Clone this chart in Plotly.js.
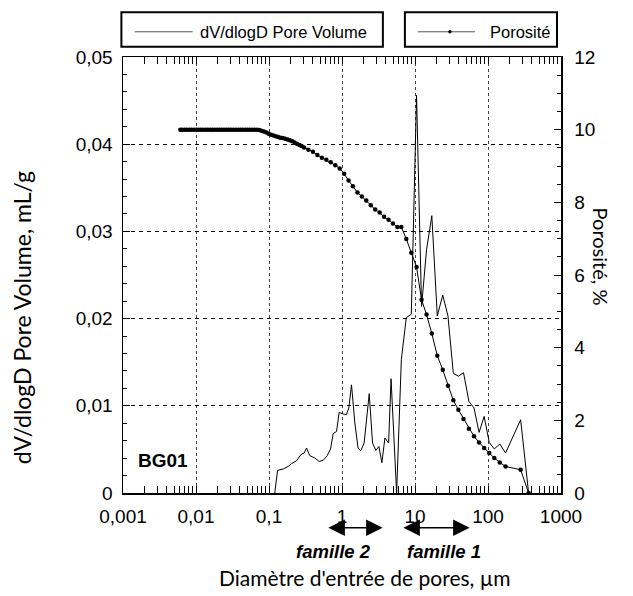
<!DOCTYPE html>
<html>
<head>
<meta charset="utf-8">
<script src="https://cdn.plot.ly/plotly-3.0.1.min.js"></script>
<style>html,body{margin:0;padding:0;background:#fff;}#chart{width:633px;height:596px;}</style>
</head>
<body>
<div id="chart"></div>
<script>
// ---- Data ----
// dV/dlogD pore volume (mL/g) vs pore entry diameter (µm)
const dvDiameter = [0.120, 0.131, 0.156, 0.183, 0.203, 0.238, 0.273, 0.303, 0.327, 0.362, 0.425, 0.486, 0.552, 0.627, 0.697, 0.757, 0.842, 0.914, 1.04, 1.15, 1.24, 1.35, 1.50, 1.66, 1.81, 2.01, 2.36, 2.62, 2.91, 3.20, 3.52, 3.87, 4.35, 4.70, 5.6, 6.5, 7.6, 8.9, 10.5, 12.3, 14.4, 17.0, 20.2, 24.0, 28.3, 33.5, 39.3, 46.2, 54.8, 64.3, 75.5, 88.6, 104, 122, 145, 174, 280, 360];
const dvValue = [0, 0.00259, 0.00275, 0.00305, 0.00336, 0.0037, 0.0044, 0.00459, 0.00516, 0.00428, 0.00401, 0.00362, 0.00374, 0.00428, 0.00505, 0.0068, 0.00706, 0.00925, 0.00906, 0.00898, 0.00975, 0.0124, 0.00803, 0.00516, 0.00485, 0.00573, 0.01139, 0.00573, 0.00489, 0.00534, 0.00347, 0.0063, 0.00573, 0.0131, 0, 0.0153, 0.0201, 0.0205, 0.0456, 0.0214, 0.0279, 0.0318, 0.0203, 0.0227, 0.0203, 0.0137, 0.0134, 0.0138, 0.0105, 0.00975, 0.00695, 0.00878, 0.0058, 0.00505, 0.00562, 0.00459, 0.0084, 0];

// Porosité (%) vs pore entry diameter (µm)
const porDiameter = [0.0061, 0.0065, 0.0070, 0.0075, 0.0081, 0.0087, 0.0094, 0.0101, 0.0108, 0.0116, 0.0125, 0.0135, 0.0145, 0.0156, 0.0168, 0.0181, 0.0195, 0.0210, 0.0226, 0.0243, 0.0262, 0.0282, 0.0303, 0.0326, 0.0351, 0.0378, 0.0407, 0.0438, 0.0472, 0.0508, 0.0547, 0.0589, 0.0634, 0.0683,
  0.0735, 0.079, 0.085, 0.092, 0.099, 0.107, 0.115, 0.124, 0.133, 0.143, 0.154, 0.166, 0.179, 0.193, 0.208, 0.224, 0.241, 0.260, 0.280, 0.302,
  0.347, 0.40, 0.46, 0.53, 0.61, 0.70, 0.81, 0.93, 1.07, 1.23, 1.41, 1.63, 1.87, 2.15, 2.48, 2.85, 3.28, 3.77, 4.34, 4.99, 5.74, 6.5,
  7.6, 8.9, 10.5, 12.3, 14.4, 17.0, 20.2, 24.0, 28.3, 33.5, 39.3, 46.2, 54.8, 64.3, 75.5, 88.6, 104, 122, 145, 174, 280, 360];
const porValue = [10.0, 10.0, 10.0, 10.0, 10.0, 10.0, 10.0, 10.0, 10.0, 10.0, 10.0, 10.0, 10.0, 10.0, 10.0, 10.0, 10.0, 10.0, 10.0, 10.0, 10.0, 10.0, 10.0, 10.0, 10.0, 10.0, 10.0, 10.0, 10.0, 10.0, 10.0, 10.0, 10.0, 10.0,
  9.99, 9.97, 9.95, 9.92, 9.89, 9.86, 9.84, 9.82, 9.80, 9.78, 9.77, 9.75, 9.73, 9.71, 9.68, 9.65, 9.61, 9.58, 9.55, 9.51,
  9.45, 9.39, 9.30, 9.23, 9.17, 9.10, 9.02, 8.93, 8.79, 8.60, 8.44, 8.27, 8.16, 8.05, 7.92, 7.80, 7.72, 7.60, 7.52, 7.42, 7.32, 7.32,
  6.99, 6.61, 6.22, 5.32, 4.91, 4.39, 3.78, 3.39, 2.95, 2.55, 2.29, 2.04, 1.77, 1.56, 1.39, 1.24, 1.10, 0.96, 0.84, 0.73, 0.64, 0];

// Tick labels
const xTickValues = [0.001, 0.01, 0.1, 1, 10, 100, 1000];
const xTickLabels = ['0,001', '0,01', '0,1', '1', '10', '100', '1000'];
const yTickValues = [0, 0.01, 0.02, 0.03, 0.04, 0.05];
const yTickLabels = ['0', '0,01', '0,02', '0,03', '0,04', '0,05'];
const y2TickValues = [0, 2, 4, 6, 8, 10, 12];
const y2TickLabels = ['0', '2', '4', '6', '8', '10', '12'];

const seriesNames = ['dV/dlogD Pore Volume', 'Porosité'];
const sampleLabel = 'BG01';
const familyLabels = ['famille 2', 'famille 1'];
const familyRanges = [[0.62, 3.6], [6.6, 56]];

// ---- Chart ----
const xMinor = [];
for (let e = -3; e < 3; e++) for (let m = 2; m <= 9; m++) xMinor.push(m * Math.pow(10, e));

const tickFont = {family: 'Liberation Sans, Arial, sans-serif', size: 19, color: '#000'};
const titleFont = {family: 'Lato, Open Sans, sans-serif', size: 21, color: '#000'};

const traces = [
  {x: dvDiameter, y: dvValue, name: seriesNames[0], type: 'scatter', mode: 'lines',
   line: {color: '#000', width: 1}, yaxis: 'y', showlegend: false},
  {x: porDiameter, y: porValue, name: seriesNames[1], type: 'scatter', mode: 'lines+markers',
   line: {color: '#000', width: 1}, marker: {color: '#000', size: 4.5}, yaxis: 'y2', showlegend: false}
];

const L = 123.3, R = 561, T = 57.5, B = 493.3;
const px = v => (v - L) / (R - L);
const py = v => (B - v) / (B - T);

const shapes = [
  {type: 'rect', xref: 'paper', yref: 'paper', x0: px(121.7), x1: px(383), y0: py(47.3), y1: py(12.7), line: {color: '#000', width: 2}},
  {type: 'rect', xref: 'paper', yref: 'paper', x0: px(405), x1: px(557), y0: py(47.3), y1: py(12.7), line: {color: '#000', width: 2}},
  {type: 'line', xref: 'paper', yref: 'paper', x0: px(135), x1: px(193), y0: py(32.3), y1: py(32.3), line: {color: '#555', width: 1}},
  {type: 'line', xref: 'paper', yref: 'paper', x0: px(418), x1: px(475), y0: py(32.3), y1: py(32.3), line: {color: '#555', width: 1}},
  {type: 'circle', xref: 'paper', yref: 'paper', x0: px(448.3), x1: px(451.7), y0: py(34), y1: py(30.6), fillcolor: '#000', line: {color: '#000', width: 0}}
];

const legendFont = {family: 'Liberation Sans, Arial, sans-serif', size: 16.5, color: '#000'};
const annotations = [
  {xref: 'paper', yref: 'paper', x: px(198), y: py(32.3), xanchor: 'left', yanchor: 'middle', showarrow: false,
   text: seriesNames[0], font: legendFont},
  {xref: 'paper', yref: 'paper', x: px(488), y: py(32.3), xanchor: 'left', yanchor: 'middle', showarrow: false,
   text: seriesNames[1], font: legendFont},
  {xref: 'paper', yref: 'paper', x: px(163), y: py(461), xanchor: 'center', yanchor: 'middle', showarrow: false,
   text: '<b>' + sampleLabel + '</b>', font: {family: 'Liberation Sans, Arial, sans-serif', size: 19, color: '#000'}},
  {xref: 'paper', yref: 'paper', x: px(365), y: py(578), xanchor: 'center', yanchor: 'middle', showarrow: false,
   text: "Diamètre d'entrée de pores, µm", font: titleFont},
  {xref: 'paper', yref: 'paper', x: px(22), y: py(318), xanchor: 'center', yanchor: 'middle', showarrow: false, textangle: -90,
   text: 'dV/dlogD Pore Volume, mL/g', font: {family: titleFont.family, size: 23, color: '#000'}},
  {xref: 'paper', yref: 'paper', x: px(601), y: py(257), xanchor: 'center', yanchor: 'middle', showarrow: false, textangle: 90,
   text: 'Porosité, %', font: {family: titleFont.family, size: 20, color: '#000'}}
];

familyRanges.forEach((r, i) => {
  const a = Math.log10(r[0]), b = Math.log10(r[1]);
  const spanPx = (b - a) * (R - L) / 6;
  annotations.push({xref: 'x', yref: 'paper', x: b, y: py(528), ax: -spanPx, ay: 0, text: '',
    showarrow: true, arrowside: 'end+start', arrowhead: 2, startarrowhead: 2, arrowsize: 2.2, startarrowsize: 2.2,
    arrowwidth: 1.5, arrowcolor: '#000'});
  annotations.push({xref: 'paper', yref: 'paper', x: i === 0 ? px(334) : px(444), y: py(552), xanchor: 'center', yanchor: 'middle',
    showarrow: false, text: '<b><i>' + familyLabels[i] + '</i></b>', font: {family: 'Liberation Sans, Arial, sans-serif', size: 18.5, color: '#000'}});
});

const layout = {
  width: 633, height: 596,
  margin: {l: 123, r: 72, t: 57, b: 103},
  paper_bgcolor: '#fff', plot_bgcolor: '#fff',
  separators: ', ',
  showlegend: false,
  xaxis: {type: 'log', range: [-3, 3], tickmode: 'array', tickvals: xTickValues, ticktext: xTickLabels,
    ticks: 'inside', ticklen: 7, tickwidth: 1, tickcolor: '#000', showline: true, linecolor: '#000', linewidth: 1.5,
    mirror: 'allticks', showgrid: true, gridcolor: '#444', griddash: '3px,3px', gridwidth: 1, zeroline: false,
    tickfont: tickFont, ticklabelstandoff: 6,
    minor: {tickmode: 'array', tickvals: xMinor, ticks: 'inside', ticklen: 4, tickcolor: '#000', showgrid: false}},
  yaxis: {range: [0, 0.05], tickmode: 'array', tickvals: yTickValues, ticktext: yTickLabels,
    ticks: 'inside', ticklen: 7, tickcolor: '#000', showline: true, linecolor: '#000', linewidth: 1.5,
    showgrid: true, gridcolor: '#000', griddash: '4px,4px', gridwidth: 1, zeroline: false, tickfont: tickFont,
    ticklabelstandoff: 5,
    minor: {dtick: 0.002, ticks: 'inside', ticklen: 4, tickcolor: '#000', showgrid: false}},
  yaxis2: {range: [0, 12], overlaying: 'y', side: 'right', tickmode: 'array', tickvals: y2TickValues, ticktext: y2TickLabels,
    ticks: 'inside', ticklen: 7, tickcolor: '#000', showline: true, linecolor: '#000', linewidth: 1.5,
    showgrid: false, zeroline: false, tickfont: tickFont, ticklabelstandoff: 8,
    minor: {dtick: 0.5, ticks: 'inside', ticklen: 4, tickcolor: '#000', showgrid: false}},
  shapes: shapes,
  annotations: annotations
};

Plotly.newPlot('chart', traces, layout, {displayModeBar: false, staticPlot: true});
</script>
</body>
</html>
